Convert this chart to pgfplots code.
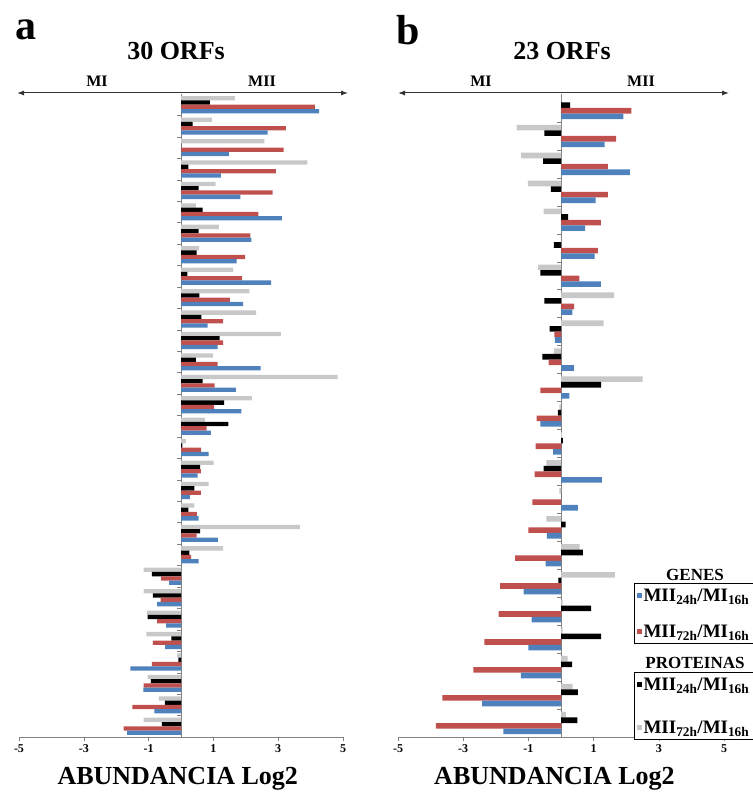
\documentclass[border=0pt]{standalone}
\usepackage{pgfplots}
\pgfplotsset{compat=1.18}
\usepackage{pgfplotstable}
\usepackage{fontspec}
\setmainfont{Liberation Serif}
\usetikzlibrary{arrows.meta}

\definecolor{cblue}{RGB}{79,129,189}
\definecolor{cred}{RGB}{192,80,77}
\definecolor{cgray}{RGB}{200,200,200}
\definecolor{axgray}{RGB}{130,130,130}

% k = ORF, g = proteinas MII72h, b = proteinas MII24h, r = genes MII72h, u = genes MII24h
\pgfplotstableread{
k g b r u
1 1.66 0.89 4.13 4.26
2 0.95 0.36 3.24 2.67
3 2.57 0.00 3.17 1.48
4 3.90 0.23 2.93 1.23
5 1.07 0.54 2.83 1.83
6 0.46 0.67 2.39 3.11
7 1.17 0.54 2.14 2.17
8 0.56 0.48 1.98 1.72
9 1.61 0.20 1.89 2.78
10 2.11 0.57 1.51 1.92
11 2.32 0.63 1.30 0.82
12 3.08 1.19 1.30 1.13
13 0.98 0.46 1.13 2.46
14 4.83 0.67 1.04 1.69
15 2.19 1.33 1.02 1.86
16 0.74 1.46 0.79 0.92
17 0.15 0.04 0.62 0.85
18 1.01 0.59 0.61 0.51
19 0.85 0.41 0.61 0.27
20 0.41 0.23 0.49 0.54
21 3.67 0.59 0.48 1.14
22 1.30 0.26 0.31 0.54
23 -1.15 -0.90 -0.61 -0.37
24 -1.15 -0.87 -0.63 -0.74
25 -1.05 -1.03 -0.74 -0.46
26 -1.07 -0.30 -0.87 -0.49
27 -0.12 -0.08 -0.90 -1.56
28 -1.03 -0.93 -1.15 -1.16
29 -0.68 -0.50 -1.50 -0.82
30 -1.15 -0.59 -1.77 -1.66
}\dataA

\pgfplotstableread{
k g b r u
1 0.00 0.28 2.16 1.91
2 -1.36 -0.51 1.69 1.34
3 -1.22 -0.55 1.44 2.11
4 -1.02 -0.31 1.44 1.06
5 -0.53 0.22 1.22 0.74
6 0.00 -0.22 1.13 1.03
7 -0.71 -0.63 0.56 1.22
8 1.63 -0.51 0.40 0.35
9 1.31 -0.35 -0.20 -0.19
10 -0.22 -0.57 -0.38 0.40
11 2.50 1.23 -0.63 0.26
12 -0.05 -0.10 -0.75 -0.63
13 0.03 0.06 -0.78 -0.24
14 -0.45 -0.53 -0.81 1.25
15 -0.05 0.00 -0.88 0.52
16 -0.45 0.14 -1.00 -0.43
17 0.57 0.67 -1.41 -0.47
18 1.65 -0.08 -1.87 -1.15
19 0.05 0.92 -1.91 -0.90
20 0.05 1.23 -2.35 -1.00
21 0.20 0.34 -2.69 -1.23
22 0.36 0.52 -3.64 -2.42
23 0.15 0.50 -3.84 -1.77
}\dataB

\pgfplotsset{
  panel/.style={
    scale only axis, height=643pt, anchor=south west,
    xbar, bar width=0.2, y dir=reverse,
    xmin=-5, xmax=5, xtick={-5,-3,-1,1,3,5},
    xticklabels={-5,-3,-1,1,3,5},
    axis x line*=bottom, axis y line*=center,
    axis line style={axgray, line width=0.8pt},
    tick align=outside, major tick length=4pt,
    tick style={axgray, line width=0.6pt},
    yticklabels={}, ytick style={axgray, line width=0.4pt},
    xticklabel style={font=\bfseries\fontsize{12}{12}\selectfont},
    xlabel={ABUNDANCIA Log2},
    xlabel style={font=\bfseries\fontsize{26}{26}\selectfont, anchor=center, yshift=-42pt},
    clip=false,
  },
  gbar/.style={fill=cgray, draw=none, bar shift=-0.3},
  kbar/.style={fill=black, draw=none, bar shift=-0.1},
  rbar/.style={fill=cred, draw=none, bar shift=0.1},
  ubar/.style={fill=cblue, draw=none, bar shift=0.3},
  legbox/.style={
    hide axis, scale only axis, width=752pt, height=794pt, anchor=south west, at={(0pt,0pt)},
    xmin=0, xmax=1, ymin=0, ymax=1,
    legend cell align=left,
    legend image code/.code={\fill[##1, draw=none] (0pt,-2.5pt) rectangle (5pt,2.5pt);},
    legend style={draw=black, line width=1.2pt, fill=white, anchor=north west,
      font=\bfseries\fontsize{19}{19}\selectfont, inner xsep=2pt, inner ysep=3pt},
  },
}

\newcommand{\lab}[2]{MII\textsubscript{#1}/MI\textsubscript{#2}}

\begin{document}
\begin{tikzpicture}[x=1pt,y=1pt]
\path[use as bounding box] (0,0) rectangle (752,794);

\begin{axis}[panel, at={(19pt,57pt)}, width=324pt,
  ymin=0.5, ymax=30.5, ytick={1.5,2.5,...,29.5},
  xlabel style={at={(axis description cs:0.49,0)}}]
\addplot[gbar] table[x=g, y=k] {\dataA};
\addplot[kbar] table[x=b, y=k] {\dataA};
\addplot[rbar] table[x=r, y=k] {\dataA};
\addplot[ubar] table[x=u, y=k] {\dataA};
\end{axis}

\begin{axis}[panel, at={(398pt,57pt)}, width=326pt,
  ymin=0.5, ymax=23.5, ytick={1.5,2.5,...,22.5},
  xlabel style={at={(axis description cs:0.48,0)}}]
\addplot[gbar] table[x=g, y=k] {\dataB};
\addplot[kbar] table[x=b, y=k] {\dataB};
\addplot[rbar] table[x=r, y=k] {\dataB};
\addplot[ubar] table[x=u, y=k] {\dataB};
\end{axis}

\begin{axis}[legbox, legend style={at={(axis description cs:0.843,0.2657)}, row sep=18pt}]
\addlegendimage{fill=cblue}
\addlegendentry{\lab{24h}{16h}}
\addlegendimage{fill=cred}
\addlegendentry{\lab{72h}{16h}}
\end{axis}

\begin{axis}[legbox, legend style={at={(axis description cs:0.843,0.1537)}, row sep=25pt}]
\addlegendimage{fill=black}
\addlegendentry{\lab{24h}{16h}}
\addlegendimage{fill=cgray}
\addlegendentry{\lab{72h}{16h}}
\end{axis}

% panel annotations
\draw[{Latex[length=7pt,width=5pt]}-{Latex[length=7pt,width=5pt]}, line width=1pt, black!80] (17,701) -- (348,701);
\draw[{Latex[length=7pt,width=5pt]}-{Latex[length=7pt,width=5pt]}, line width=1pt, black!80] (398,701) -- (729,701);
\node[font=\bfseries\fontsize{16}{16}\selectfont] at (97,713) {MI};
\node[font=\bfseries\fontsize{16}{16}\selectfont] at (262,713) {MII};
\node[font=\bfseries\fontsize{16}{16}\selectfont] at (481,713) {MI};
\node[font=\bfseries\fontsize{16}{16}\selectfont] at (641,713) {MII};
\node[font=\bfseries\fontsize{26}{26}\selectfont] at (176,743) {30 ORFs};
\node[font=\bfseries\fontsize{26}{26}\selectfont] at (562,743) {23 ORFs};
\node[font=\bfseries\fontsize{42}{42}\selectfont] at (26,764) {a};
\node[font=\bfseries\fontsize{42}{42}\selectfont] at (408,764) {b};
\node[font=\bfseries\fontsize{17}{17}\selectfont] at (695,219) {GENES};
\node[font=\bfseries\fontsize{17}{17}\selectfont] at (695,131) {PROTEINAS};
\end{tikzpicture}
\end{document}
